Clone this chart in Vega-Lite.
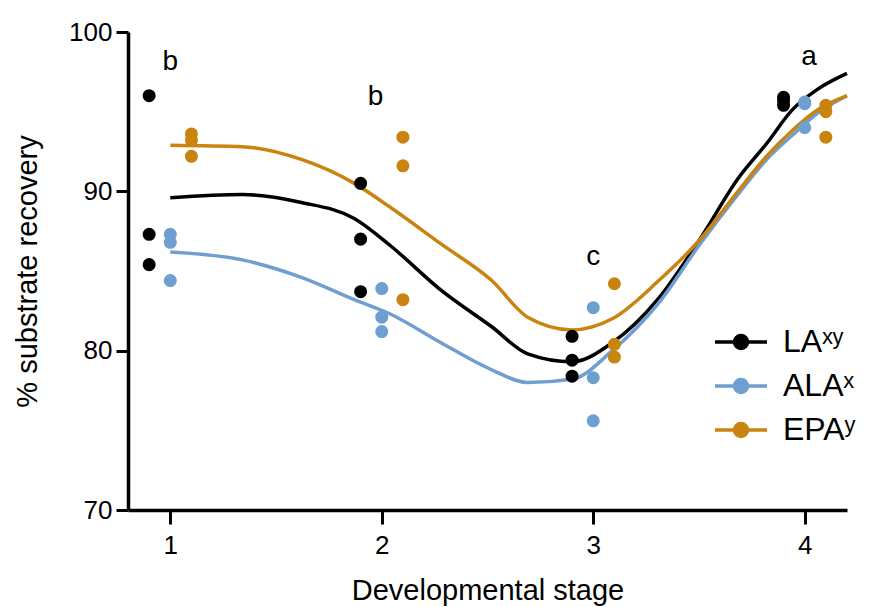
{
  "$schema": "https://vega.github.io/schema/vega-lite/v6.json",
  "autosize": {"type": "none"},
  "padding": {"left": 128, "top": 32, "right": 27, "bottom": 97},
  "width": 719,
  "height": 478,
  "background": "white",
  "config": {
    "view": {"stroke": null},
    "font": "Liberation Sans",
    "axis": {"grid": false, "domainColor": "black", "tickColor": "black", "labelColor": "black", "titleColor": "black", "titleFontWeight": "normal", "labelFont": "Liberation Sans", "titleFont": "Liberation Sans"},
    "legend": {"orient": "none", "legendX": 585, "legendY": 282, "title": null,
      "symbolType": "M-1,0H1M-0.25,0A0.25,0.25 0 1,0 0.25,0A0.25,0.25 0 1,0 -0.25,0Z",
      "symbolSize": 2704, "symbolStrokeWidth": 3.5, "symbolOpacity": 1, "labelFontSize": 32, "labelFont": "Liberation Sans", "labelColor": "black", "labelOffset": 14, "rowPadding": 0}
  },
  "datasets": {
    "curves": [
      {"series": "LAˣʸ", "x": 1.0, "y": 89.6}, {"series": "LAˣʸ", "x": 1.34, "y": 89.8}, {"series": "LAˣʸ", "x": 1.62, "y": 89.3}, {"series": "LAˣʸ", "x": 1.87, "y": 88.3}, {"series": "LAˣʸ", "x": 2.04, "y": 86.6}, {"series": "LAˣʸ", "x": 2.28, "y": 83.8}, {"series": "LAˣʸ", "x": 2.52, "y": 81.5}, {"series": "LAˣʸ", "x": 2.69, "y": 79.8}, {"series": "LAˣʸ", "x": 2.9, "y": 79.3}, {"series": "LAˣʸ", "x": 3.09, "y": 80.5}, {"series": "LAˣʸ", "x": 3.31, "y": 83.3}, {"series": "LAˣʸ", "x": 3.5, "y": 86.9}, {"series": "LAˣʸ", "x": 3.69, "y": 90.9}, {"series": "LAˣʸ", "x": 3.82, "y": 93.0}, {"series": "LAˣʸ", "x": 3.94, "y": 95.1}, {"series": "LAˣʸ", "x": 4.06, "y": 96.4}, {"series": "LAˣʸ", "x": 4.2, "y": 97.4},
      {"series": "ALAˣ", "x": 1.0, "y": 86.2}, {"series": "ALAˣ", "x": 1.34, "y": 85.7}, {"series": "ALAˣ", "x": 1.62, "y": 84.6}, {"series": "ALAˣ", "x": 1.87, "y": 83.2}, {"series": "ALAˣ", "x": 2.04, "y": 82.3}, {"series": "ALAˣ", "x": 2.28, "y": 80.5}, {"series": "ALAˣ", "x": 2.52, "y": 78.8}, {"series": "ALAˣ", "x": 2.69, "y": 78.0}, {"series": "ALAˣ", "x": 2.9, "y": 78.2}, {"series": "ALAˣ", "x": 3.09, "y": 80.0}, {"series": "ALAˣ", "x": 3.31, "y": 83.0}, {"series": "ALAˣ", "x": 3.5, "y": 86.6}, {"series": "ALAˣ", "x": 3.69, "y": 89.9}, {"series": "ALAˣ", "x": 3.82, "y": 92.0}, {"series": "ALAˣ", "x": 3.94, "y": 93.5}, {"series": "ALAˣ", "x": 4.06, "y": 94.9}, {"series": "ALAˣ", "x": 4.2, "y": 96.0},
      {"series": "EPAʸ", "x": 1.0, "y": 92.9}, {"series": "EPAʸ", "x": 1.34, "y": 92.8}, {"series": "EPAʸ", "x": 1.62, "y": 92.0}, {"series": "EPAʸ", "x": 1.87, "y": 90.5}, {"series": "EPAʸ", "x": 2.04, "y": 89.0}, {"series": "EPAʸ", "x": 2.28, "y": 86.7}, {"series": "EPAʸ", "x": 2.52, "y": 84.4}, {"series": "EPAʸ", "x": 2.69, "y": 82.1}, {"series": "EPAʸ", "x": 2.9, "y": 81.3}, {"series": "EPAʸ", "x": 3.09, "y": 82.0}, {"series": "EPAʸ", "x": 3.31, "y": 84.4}, {"series": "EPAʸ", "x": 3.5, "y": 86.9}, {"series": "EPAʸ", "x": 3.69, "y": 90.1}, {"series": "EPAʸ", "x": 3.82, "y": 92.2}, {"series": "EPAʸ", "x": 3.94, "y": 93.8}, {"series": "EPAʸ", "x": 4.06, "y": 95.1}, {"series": "EPAʸ", "x": 4.2, "y": 96.0}
    ],
    "points": [
      {"series": "LAˣʸ", "x": 0.9, "y": 96.0}, {"series": "LAˣʸ", "x": 0.9, "y": 87.3}, {"series": "LAˣʸ", "x": 0.9, "y": 85.4},
      {"series": "ALAˣ", "x": 1.0, "y": 87.3}, {"series": "ALAˣ", "x": 1.0, "y": 86.8}, {"series": "ALAˣ", "x": 1.0, "y": 84.4},
      {"series": "EPAʸ", "x": 1.1, "y": 93.6}, {"series": "EPAʸ", "x": 1.1, "y": 93.2}, {"series": "EPAʸ", "x": 1.1, "y": 92.2},
      {"series": "LAˣʸ", "x": 1.9, "y": 90.5}, {"series": "LAˣʸ", "x": 1.9, "y": 87.0}, {"series": "LAˣʸ", "x": 1.9, "y": 83.7},
      {"series": "ALAˣ", "x": 2.0, "y": 83.9}, {"series": "ALAˣ", "x": 2.0, "y": 82.1}, {"series": "ALAˣ", "x": 2.0, "y": 81.2},
      {"series": "EPAʸ", "x": 2.1, "y": 93.4}, {"series": "EPAʸ", "x": 2.1, "y": 91.6}, {"series": "EPAʸ", "x": 2.1, "y": 83.2},
      {"series": "LAˣʸ", "x": 2.9, "y": 80.9}, {"series": "LAˣʸ", "x": 2.9, "y": 79.4}, {"series": "LAˣʸ", "x": 2.9, "y": 78.4},
      {"series": "ALAˣ", "x": 3.0, "y": 82.7}, {"series": "ALAˣ", "x": 3.0, "y": 78.3}, {"series": "ALAˣ", "x": 3.0, "y": 75.6},
      {"series": "EPAʸ", "x": 3.1, "y": 84.2}, {"series": "EPAʸ", "x": 3.1, "y": 80.4}, {"series": "EPAʸ", "x": 3.1, "y": 79.6},
      {"series": "LAˣʸ", "x": 3.9, "y": 95.9}, {"series": "LAˣʸ", "x": 3.9, "y": 95.7}, {"series": "LAˣʸ", "x": 3.9, "y": 95.4},
      {"series": "ALAˣ", "x": 4.0, "y": 95.6}, {"series": "ALAˣ", "x": 4.0, "y": 95.5}, {"series": "ALAˣ", "x": 4.0, "y": 94.0},
      {"series": "EPAʸ", "x": 4.1, "y": 95.4}, {"series": "EPAʸ", "x": 4.1, "y": 95.0}, {"series": "EPAʸ", "x": 4.1, "y": 93.4}
    ],
    "letters": [
      {"label": "b", "x": 1.0, "y": 98.1},
      {"label": "b", "x": 1.97, "y": 95.9},
      {"label": "c", "x": 3.0, "y": 85.9},
      {"label": "a", "x": 4.02, "y": 98.4}
    ]
  },
  "layer": [
    {
      "data": {"name": "curves"},
      "mark": {"type": "line", "strokeWidth": 3.5, "interpolate": "monotone"},
      "encoding": {
        "x": {"field": "x", "type": "quantitative", "scale": {"domain": [0.8, 4.2], "nice": false, "zero": false},
          "axis": {"values": [1, 2, 3, 4], "format": "d", "title": "Developmental stage", "domainWidth": 3.5, "tickWidth": 3, "tickSize": 14, "labelFontSize": 26, "labelPadding": 8, "titleFontSize": 29, "titlePadding": 18}},
        "y": {"field": "y", "type": "quantitative", "scale": {"domain": [70, 100], "nice": false, "zero": false},
          "axis": {"values": [70, 80, 90, 100], "title": "% substrate recovery", "domainWidth": 3.5, "tickWidth": 3, "tickSize": 12, "labelFontSize": 26, "labelPadding": 4, "titleFontSize": 29, "titlePadding": 26}},
        "color": {"field": "series", "type": "nominal", "scale": {"domain": ["LAˣʸ", "ALAˣ", "EPAʸ"], "range": ["#000000", "#6F9FD0", "#C8840E"]},
          "legend": {"encode": {"symbols": {"update": {"fill": {"scale": "color", "field": "value"}, "stroke": {"scale": "color", "field": "value"}, "strokeWidth": {"value": 3.5}, "opacity": {"value": 1}}}}}},
        "detail": {"field": "series"}
      }
    },
    {
      "data": {"name": "points"},
      "mark": {"type": "point", "shape": "circle", "filled": true, "opacity": 1, "size": 170},
      "encoding": {
        "x": {"field": "x", "type": "quantitative"},
        "y": {"field": "y", "type": "quantitative"},
        "color": {"field": "series", "type": "nominal",
          "legend": {"encode": {"symbols": {"update": {"fill": {"scale": "color", "field": "value"}, "stroke": {"scale": "color", "field": "value"}, "strokeWidth": {"value": 3.5}, "opacity": {"value": 1}}}}}}
      }
    },
    {
      "data": {"name": "letters"},
      "mark": {"type": "text", "fontSize": 28, "font": "Liberation Sans", "color": "black", "baseline": "middle", "align": "center"},
      "encoding": {
        "x": {"field": "x", "type": "quantitative"},
        "y": {"field": "y", "type": "quantitative"},
        "text": {"field": "label"}
      }
    }
  ]
}
